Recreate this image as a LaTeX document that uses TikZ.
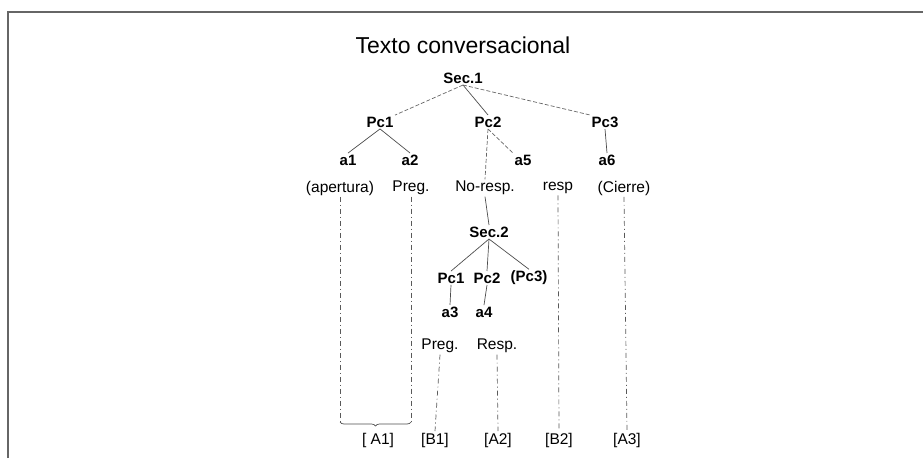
\documentclass[tikz,border=0pt]{standalone}
\usepackage{fontspec}
\setmainfont{Liberation Sans}
\usetikzlibrary{decorations.pathreplacing}
\begin{document}
\begin{tikzpicture}[x=1pt,y=-1pt,
  lbl/.style={font=\fontsize{15}{17}\selectfont\bfseries, inner sep=1.5pt},
  txt/.style={font=\fontsize{15.5}{17}\selectfont, inner sep=1.5pt},
  ttl/.style={font=\fontsize{23}{25}\selectfont},
  solidln/.style={draw=black!70, line width=0.7pt},
  dashln/.style={draw=black!60, line width=0.7pt, dash pattern=on 4pt off 2pt},
  dotln/.style={draw=black!65, line width=0.7pt, dash pattern=on 5pt off 3pt on 1pt off 3pt},
  frameln/.style={draw=black!60, line width=1.5pt}]
\useasboundingbox (0,0) rectangle (923,458);
\coordinate (fbl) at (8,458);
\coordinate (ftl) at (8,12);
\coordinate (ftr) at (923,12);
\draw[frameln] (fbl) -- (ftl) -- (ftr);

\node[ttl] (title) at (463,45) {Texto conversacional};
\node[lbl] (s1) at (463,78) {Sec.1};
\node[lbl] (p1) at (380,122) {Pc1};
\node[lbl] (p2) at (488,122) {Pc2};
\node[lbl] (p3) at (605,122) {Pc3};
\node[lbl] (a1) at (348,160) {a1};
\node[lbl] (a2) at (410,160) {a2};
\node[lbl] (a5) at (523,160) {a5};
\node[lbl] (a6) at (607,160) {a6};
\node[txt] (ap) at (340,188) {(apertura)};
\node[txt] (preg1) at (411,188) {Preg.};
\node[txt] (nores) at (485,188) {No-resp.};
\node[txt] (resp) at (558,188) {resp};
\node[txt] (cierre) at (624,188) {(Cierre)};
\node[lbl] (s2) at (489,232) {Sec.2};
\node[lbl] (q1) at (451,278) {Pc1};
\node[lbl] (q2) at (487,278) {Pc2};
\node[lbl] (q3) at (529,278) {(Pc3)};
\node[lbl] (a3) at (450,312) {a3};
\node[lbl] (a4) at (484,312) {a4};
\node[txt] (preg2) at (440,346) {Preg.};
\node[txt] (resp2) at (497,346) {Resp.};
\node[txt] (A1) at (378,440) {[ A1]};
\node[txt] (B1) at (435,440) {[B1]};
\node[txt] (A2) at (498,440) {[A2]};
\node[txt] (B2) at (559,440) {[B2]};
\node[txt] (A3) at (627,440) {[A3]};

% tree edges
\draw[dashln] (s1.south) -- (p1.north east);
\draw[solidln] (s1.south) -- (p2.north);
\draw[dashln] (s1.south) -- (p3.north west);
\draw[solidln] (p1.south) -- (a1.north);
\draw[solidln] (p1.south) -- (a2.north);
\draw[dashln] (p2.south) -- (nores.north);
\draw[dashln] (p2.south) -- (a5.north west);
\draw[solidln] (p3.south) -- (a6.north);
\draw[solidln] (nores.south) -- (s2.north);
\draw[solidln] (s2.south) -- (q1.north);
\draw[solidln] (s2.south) -- (q2.north);
\draw[solidln] (s2.south) -- (q3.north);
\draw[solidln] (q1.south) -- (a3.north);
\draw[solidln] (q2.south) -- (a4.north);

% links to the bottom labels
\coordinate (bl) at (340,422);
\coordinate (br) at (411,422);
\draw[dotln] (ap.south) -- (bl);
\draw[dotln] (preg1.south) -- (br);
\draw[solidln, decorate, decoration={brace, mirror, amplitude=4pt}] (bl) -- (br);
\draw[dotln] (preg2.south) -- (B1.north);
\draw[dotln] (resp2.south) -- (A2.north);
\draw[dotln] (resp.south) -- (B2.north);
\draw[dotln] (cierre.south) -- (A3.north);
\end{tikzpicture}
\end{document}
